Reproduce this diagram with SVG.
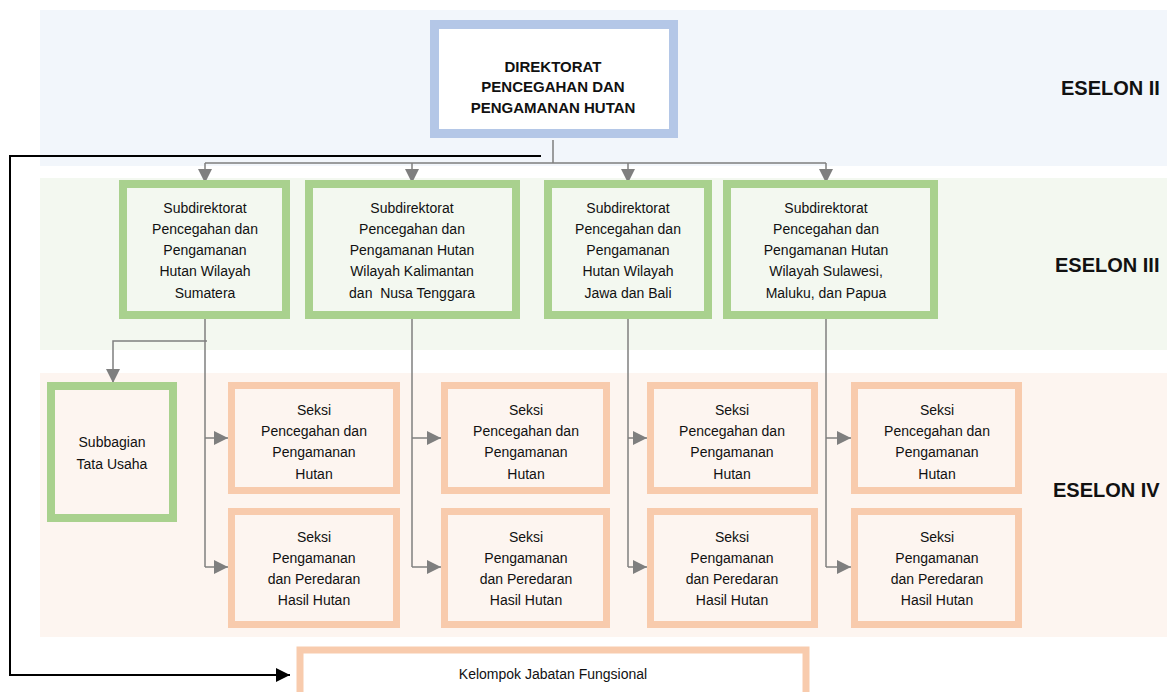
<svg xmlns="http://www.w3.org/2000/svg" width="1167" height="692" viewBox="0 0 1167 692">
<style>
text{font-family:"Liberation Sans",Arial,sans-serif;font-size:14px;fill:#111;text-anchor:middle;white-space:pre}
.b{font-weight:bold;font-size:15px}
.es{font-weight:bold;font-size:20px;text-anchor:start}
.dir{fill:#fff;stroke:#b4c7e7;stroke-width:9}
.sub{fill:#f3f8f0;stroke:#a9d18e;stroke-width:8}
.tu{fill:#fdf5f0;stroke:#a9d18e;stroke-width:8}
.sek{fill:#fdf5f0;stroke:#f8cbad;stroke-width:7}
.kel{fill:#fff;stroke:#f8cbad;stroke-width:7}
.c{fill:none;stroke:#7f7f7f;stroke-width:1.5}
.k{fill:none;stroke:#000;stroke-width:2}
</style>
<defs>
<marker id="ag" markerUnits="userSpaceOnUse" markerWidth="14" markerHeight="14" refX="14" refY="7" orient="auto"><path d="M0,0 L14,7 L0,14 Z" fill="#7f7f7f"/></marker>
<marker id="ak" markerUnits="userSpaceOnUse" markerWidth="14" markerHeight="14" refX="14" refY="7" orient="auto"><path d="M0,0 L14,7 L0,14 Z" fill="#000"/></marker>
</defs>
<g id="bands">
<rect x="40" y="10" width="1127" height="156" fill="#f2f6fb"/>
<rect x="40" y="178" width="1127" height="172" fill="#f3f8f0"/>
<rect x="40" y="373" width="1127" height="264" fill="#fdf5f0"/>
<text class="es" x="1061" y="95">ESELON II</text>
<text class="es" x="1055" y="272">ESELON III</text>
<text class="es" x="1053" y="497">ESELON IV</text>
</g>
<g id="connectors">
<path class="c" d="M553,140 V163 M205,163 H826"/>
<path class="c" d="M205,163 V183" marker-end="url(#ag)"/>
<path class="c" d="M412,163 V183" marker-end="url(#ag)"/>
<path class="c" d="M628,163 V183" marker-end="url(#ag)"/>
<path class="c" d="M826,163 V183" marker-end="url(#ag)"/>
<path class="c" d="M207,341 H113 V383" marker-end="url(#ag)"/>
<path class="c" d="M205,318 V567"/>
<path class="c" d="M412,318 V567"/>
<path class="c" d="M628,318 V567"/>
<path class="c" d="M826,318 V567"/>
<path class="c" d="M205,438 H228" marker-end="url(#ag)"/>
<path class="c" d="M205,567 H228" marker-end="url(#ag)"/>
<path class="c" d="M412,438 H441" marker-end="url(#ag)"/>
<path class="c" d="M412,567 H441" marker-end="url(#ag)"/>
<path class="c" d="M628,438 H647" marker-end="url(#ag)"/>
<path class="c" d="M628,567 H647" marker-end="url(#ag)"/>
<path class="c" d="M826,438 H851" marker-end="url(#ag)"/>
<path class="c" d="M826,567 H851" marker-end="url(#ag)"/>
<path class="k" d="M541,156 H10 V675 H290" marker-end="url(#ak)"/>
</g>
<g id="direktorat">
<rect class="dir" x="434.5" y="24.5" width="239" height="109"/>
<text class="b" x="553" y="72">DIREKTORAT</text>
<text class="b" x="553" y="92">PENCEGAHAN DAN</text>
<text class="b" x="553" y="113">PENGAMANAN HUTAN</text>
</g>
<g id="subdit1">
<rect class="sub" x="123" y="184" width="163" height="131"/>
<text x="205" y="213">Subdirektorat</text><text x="205" y="234">Pencegahan dan</text><text x="205" y="255">Pengamanan</text><text x="205" y="276">Hutan Wilayah</text><text x="205" y="298">Sumatera</text>
</g>
<g id="subdit2">
<rect class="sub" x="309" y="184" width="207" height="131"/>
<text x="412" y="213">Subdirektorat</text><text x="412" y="234">Pencegahan dan</text><text x="412" y="255">Pengamanan Hutan</text><text x="412" y="276">Wilayah Kalimantan</text><text x="412" y="298" xml:space="preserve">dan  Nusa Tenggara</text>
</g>
<g id="subdit3">
<rect class="sub" x="548" y="184" width="160" height="131"/>
<text x="628" y="213">Subdirektorat</text><text x="628" y="234">Pencegahan dan</text><text x="628" y="255">Pengamanan</text><text x="628" y="276">Hutan Wilayah</text><text x="628" y="298">Jawa dan Bali</text>
</g>
<g id="subdit4">
<rect class="sub" x="727" y="184" width="207" height="131"/>
<text x="826" y="213">Subdirektorat</text><text x="826" y="234">Pencegahan dan</text><text x="826" y="255">Pengamanan Hutan</text><text x="826" y="276">Wilayah Sulawesi,</text><text x="826" y="298">Maluku, dan Papua</text>
</g>
<g id="subbagian">
<rect class="tu" x="51" y="386" width="122" height="132"/>
<text x="112" y="447">Subbagian</text><text x="112" y="469">Tata Usaha</text>
</g>
<g id="seksi1a"><rect class="sek" x="231.5" y="385.5" width="165" height="105"/>
<text x="314" y="415">Seksi</text><text x="314" y="436">Pencegahan dan</text><text x="314" y="457">Pengamanan</text><text x="314" y="479">Hutan</text></g>
<g id="seksi1b"><rect class="sek" x="231.5" y="511.5" width="165" height="113"/>
<text x="314" y="542">Seksi</text><text x="314" y="563">Pengamanan</text><text x="314" y="584">dan Peredaran</text><text x="314" y="605">Hasil Hutan</text></g>
<g id="seksi2a"><rect class="sek" x="444.5" y="385.5" width="162" height="105"/>
<text x="526" y="415">Seksi</text><text x="526" y="436">Pencegahan dan</text><text x="526" y="457">Pengamanan</text><text x="526" y="479">Hutan</text></g>
<g id="seksi2b"><rect class="sek" x="444.5" y="511.5" width="162" height="113"/>
<text x="526" y="542">Seksi</text><text x="526" y="563">Pengamanan</text><text x="526" y="584">dan Peredaran</text><text x="526" y="605">Hasil Hutan</text></g>
<g id="seksi3a"><rect class="sek" x="650.5" y="385.5" width="164" height="105"/>
<text x="732" y="415">Seksi</text><text x="732" y="436">Pencegahan dan</text><text x="732" y="457">Pengamanan</text><text x="732" y="479">Hutan</text></g>
<g id="seksi3b"><rect class="sek" x="650.5" y="511.5" width="164" height="113"/>
<text x="732" y="542">Seksi</text><text x="732" y="563">Pengamanan</text><text x="732" y="584">dan Peredaran</text><text x="732" y="605">Hasil Hutan</text></g>
<g id="seksi4a"><rect class="sek" x="854.5" y="385.5" width="164" height="105"/>
<text x="937" y="415">Seksi</text><text x="937" y="436">Pencegahan dan</text><text x="937" y="457">Pengamanan</text><text x="937" y="479">Hutan</text></g>
<g id="seksi4b"><rect class="sek" x="854.5" y="511.5" width="164" height="113"/>
<text x="937" y="542">Seksi</text><text x="937" y="563">Pengamanan</text><text x="937" y="584">dan Peredaran</text><text x="937" y="605">Hasil Hutan</text></g>
<g id="kelompok"><rect class="kel" x="300" y="650" width="506" height="50"/>
<text x="553" y="679">Kelompok Jabatan Fungsional</text></g>
</svg>
